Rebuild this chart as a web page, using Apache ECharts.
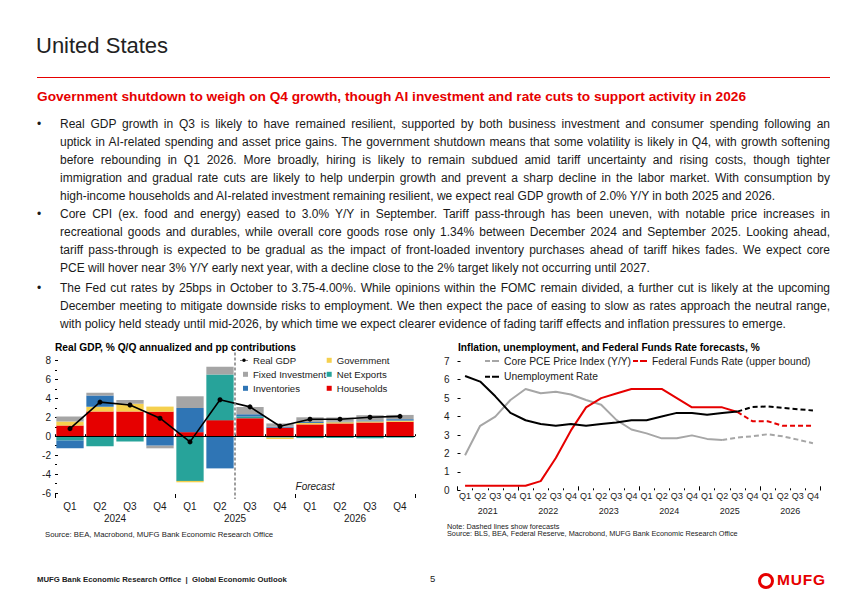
<!DOCTYPE html>
<html><head><meta charset="utf-8">
<script src="https://cdn.jsdelivr.net/npm/echarts@6/dist/echarts.min.js"></script>
<style>
body{margin:0;background:#fff;}
#page{position:relative;width:867px;height:600px;overflow:hidden;background:#fff;font-family:Arial,"Liberation Sans",Helvetica,sans-serif;color:#1a1a1a;}
#chart{position:absolute;left:0;top:0;width:867px;height:600px;z-index:1;}
.t{position:absolute;z-index:2;}
#title{left:36px;top:33px;font-size:22px;line-height:26px;color:#222;}
#rule{left:37px;top:77px;width:793px;height:1.3px;background:#e60000;}
#sub{left:37px;top:89px;font-size:13.7px;line-height:16px;font-weight:bold;color:#e60000;white-space:nowrap;}
.para{left:60px;width:770px;font-size:12px;line-height:18px;}
.para div{white-space:nowrap;text-align:justify;text-align-last:justify;}
.para div.last{text-align:left;text-align-last:left;}
.para .b{position:absolute;left:-23px;top:0;}
#foot{left:37px;top:575px;font-size:7.75px;font-weight:bold;line-height:10px;color:#222;white-space:nowrap;}
#pg{left:430px;top:573px;font-size:9.5px;line-height:12px;color:#222;}
#logo{left:758px;top:571px;width:74px;height:18px;}
#ring{position:absolute;left:0;top:1.5px;width:10px;height:10px;border:3px solid #e60000;border-radius:50%;}
#mufg{position:absolute;left:19px;top:0;font-size:15.5px;line-height:17px;font-weight:bold;color:#e60000;letter-spacing:0.8px;}
</style>
</head>
<body>
<div id="page">
  <div id="chart"></div>
  <div class="t" id="title">United States</div>
  <div class="t" id="rule"></div>
  <div class="t" id="sub">Government shutdown to weigh on Q4 growth, though AI investment and rate cuts to support activity in 2026</div>
  <div class="t para" style="top:115px"><span class="b">•</span>
    <div>Real GDP growth in Q3 is likely to have remained resilient, supported by both business investment and consumer spending following an</div>
    <div>uptick in AI-related spending and asset price gains. The government shutdown means that some volatility is likely in Q4, with growth softening</div>
    <div>before rebounding in Q1 2026. More broadly, hiring is likely to remain subdued amid tariff uncertainty and rising costs, though tighter</div>
    <div>immigration and gradual rate cuts are likely to help underpin growth and prevent a sharp decline in the labor market. With consumption by</div>
    <div class="last">high-income households and AI-related investment remaining resilient, we expect real GDP growth of 2.0% Y/Y in both 2025 and 2026.</div>
  </div>
  <div class="t para" style="top:205px"><span class="b">•</span>
    <div>Core CPI (ex. food and energy) eased to 3.0% Y/Y in September. Tariff pass-through has been uneven, with notable price increases in</div>
    <div>recreational goods and durables, while overall core goods rose only 1.34% between December 2024 and September 2025. Looking ahead,</div>
    <div>tariff pass-through is expected to be gradual as the impact of front-loaded inventory purchases ahead of tariff hikes fades. We expect core</div>
    <div class="last">PCE will hover near 3% Y/Y early next year, with a decline close to the 2% target likely not occurring until 2027.</div>
  </div>
  <div class="t para" style="top:279px"><span class="b">•</span>
    <div>The Fed cut rates by 25bps in October to 3.75-4.00%. While opinions within the FOMC remain divided, a further cut is likely at the upcoming</div>
    <div>December meeting to mitigate downside risks to employment. We then expect the pace of easing to slow as rates approach the neutral range,</div>
    <div class="last">with policy held steady until mid-2026, by which time we expect clearer evidence of fading tariff effects and inflation pressures to emerge.</div>
  </div>
  <div class="t" id="foot">MUFG Bank Economic Research Office&nbsp; | &nbsp;Global Economic Outlook</div>
  <div class="t" id="pg">5</div>
  <div class="t" id="logo"><div id="ring"></div><div id="mufg">MUFG</div></div>
</div>
<script>
// ---------- Left chart: Real GDP contributions ----------
const gdpQuarters = ['Q1','Q2','Q3','Q4','Q1','Q2','Q3','Q4','Q1','Q2','Q3','Q4'];
const gdpYears = ['2024','2025','2026'];
const households      = [1.13, 2.60, 2.62, 2.60, 0.43, 1.70, 1.90, 0.90, 1.25, 1.35, 1.45, 1.52];
const government      = [0.42, 0.52, 0.82, 0.53, -0.15, 0.00, 0.00, -0.15, 0.15, 0.13, 0.12, 0.13];
const netExports      = [-0.45, -1.05, -0.57, 0.00, -4.72, 4.82, 0.18, -0.15, -0.20, -0.18, -0.22, -0.15];
const inventories     = [-0.82, 1.17, 0.00, -1.00, 2.55, -3.40, 0.25, 0.10, 0.10, 0.05, 0.10, 0.15];
const fixedInvestment = [0.53, 0.30, 0.38, -0.28, 1.24, 0.82, 0.77, 0.35, 0.50, 0.45, 0.55, 0.45];
const realGDP         = [0.8, 3.6, 3.3, 1.9, -0.6, 3.85, 3.1, 1.05, 1.8, 1.8, 2.0, 2.1];

// ---------- Right chart: inflation, unemployment, Fed funds ----------
const pceQuarters = ['Q1','Q2','Q3','Q4','Q1','Q2','Q3','Q4','Q1','Q2','Q3','Q4','Q1','Q2','Q3','Q4','Q1','Q2','Q3','Q4','Q1','Q2','Q3','Q4'];
const pceYears = ['2021','2022','2023','2024','2025','2026'];
const corePCE = [1.9, 3.5, 4.0, 4.9, 5.5, 5.27, 5.35, 5.2, 4.9, 4.64, 3.82, 3.3, 3.09, 2.82, 2.82, 2.98, 2.79, 2.73];
const corePCEForecast = [null,null,null,null,null,null,null,null,null,null,null,null,null,null,null,null,null, 2.73, 2.86, 2.93, 3.04, 2.93, 2.75, 2.55];
const unemployment = [6.2, 5.9, 5.1, 4.2, 3.8, 3.6, 3.5, 3.6, 3.5, 3.6, 3.68, 3.8, 3.8, 4.0, 4.2, 4.2, 4.1, 4.2, 4.27];
const unemploymentForecast = [null,null,null,null,null,null,null,null,null,null,null,null,null,null,null,null,null,null, 4.27, 4.52, 4.55, 4.47, 4.4, 4.33];
const fedFunds = [0.25, 0.25, 0.25, 0.25, 0.25, 0.5, 1.75, 3.25, 4.5, 5.0, 5.25, 5.5, 5.5, 5.5, 5.0, 4.5, 4.5, 4.5, 4.25];
const fedFundsForecast = [null,null,null,null,null,null,null,null,null,null,null,null,null,null,null,null,null,null, 4.25, 3.75, 3.75, 3.5, 3.5, 3.5];

const gdpCats = gdpQuarters.map((q, i) => q + ' ' + gdpYears[Math.floor(i / 4)]);
const pceCats = pceQuarters.map((q, i) => q + ' ' + pceYears[Math.floor(i / 4)]);
const govPos = government.map(v => v >= 0 ? v : '-');
const govNeg = government.map(v => v < 0 ? v : '-');

const C = {red:'#E60000', yellow:'#F5D04E', teal:'#27A39A', blue:'#2F75B5', gray:'#A5A5A5', black:'#000'};
const FONT = 'Arial, "Liberation Sans", sans-serif';
const txt = '#1a1a1a';

function bar(name, data, color) {
  return {name, type:'bar', stack:'gdp', data, xAxisIndex:0, yAxisIndex:0,
          barCategoryGap:'9%', itemStyle:{color}, silent:true};
}
function line(name, data, color, dashed) {
  return {name, type:'line', data, xAxisIndex:2, yAxisIndex:1, symbol:'none', silent:true,
          lineStyle:{color, width:2, type: dashed ? [5,3] : 'solid'}, itemStyle:{color}};
}
const legText = {fontSize:9.6, color:txt, lineHeight:12};
const legText2 = {fontSize:10.3, color:txt, lineHeight:12.5};
const dashIcon = 'path://M0,0H5V2H0Z M7,0H14V2H7Z';

const option = {
  animation:false,
  textStyle:{fontFamily:FONT},
  grid:[
    {left:55, top:360.5, width:360, height:132.5},
    {left:457.5, top:361.3, width:363, height:129}
  ],
  xAxis:[
    {type:'category', gridIndex:0, data:gdpCats, position:'bottom', offset:5,
     axisLine:{show:false}, axisTick:{show:true, inside:true, length:2, interval:0, lineStyle:{color:'#000'}},
     axisLabel:{interval:0, margin:3, fontSize:10, color:txt, formatter:v => v.split(' ')[0]}},
    {type:'category', gridIndex:0, data:gdpYears, position:'bottom', offset:5,
     axisLine:{show:false}, axisTick:{show:true, inside:true, length:4, lineStyle:{color:'#000'}},
     axisLabel:{margin:15, fontSize:10, color:txt}},
    {type:'category', gridIndex:1, data:pceCats, position:'bottom', boundaryGap:true,
     axisLine:{show:false}, axisTick:{show:true, inside:true, length:2, interval:0, lineStyle:{color:'#000'}},
     axisLabel:{interval:0, margin:1, fontSize:9, color:txt, formatter:v => v.split(' ')[0]}},
    {type:'category', gridIndex:1, data:pceYears, position:'bottom',
     axisLine:{show:false}, axisTick:{show:true, inside:true, length:4, lineStyle:{color:'#000'}},
     axisLabel:{margin:16, fontSize:9, color:txt}}
  ],
  yAxis:[
    {type:'value', gridIndex:0, min:-6, max:8, interval:2,
     axisLine:{show:false}, splitLine:{show:false},
     axisTick:{show:true, inside:true, length:3, lineStyle:{color:'#000'}},
     minorTick:{show:true, splitNumber:2, length:2, lineStyle:{color:'#000'}},
     axisLabel:{margin:4, fontSize:10, color:txt}},
    {type:'value', gridIndex:1, min:0, max:7, interval:1,
     axisLine:{show:false}, splitLine:{show:false},
     axisTick:{show:true, inside:true, length:3, lineStyle:{color:'#000'}},
     axisLabel:{margin:8, fontSize:10, color:txt}}
  ],
  legend:[
    {left:240, top:354.3, padding:0, orient:'vertical', itemWidth:8, itemHeight:6, itemGap:2,
     data:[{name:'Real GDP', icon:'path://M0,2.6H10V3.4H0Z M2.8,3A2.2,2.2 0 1 1 7.2,3A2.2,2.2 0 1 1 2.8,3Z'}],
     textStyle:legText},
    {left:243, top:368.3, padding:0, orient:'vertical', itemWidth:5, itemHeight:5, itemGap:2, icon:'rect',
     data:['Fixed Investment','Inventories'], textStyle:legText},
    {left:326.7, top:354.3, padding:0, orient:'vertical', itemWidth:5, itemHeight:5, itemGap:2, icon:'rect',
     data:['Government','Net Exports','Households'], textStyle:legText},
    {left:485, top:354.8, padding:0, orient:'vertical', itemWidth:14, itemHeight:3, itemGap:3.2, icon:dashIcon,
     data:['Core PCE Price Index (Y/Y)','Unemployment Rate'], textStyle:legText2},
    {left:633, top:354.8, padding:0, orient:'vertical', itemWidth:14, itemHeight:3, itemGap:3.2, icon:dashIcon,
     data:['Federal Funds Rate (upper bound)'], textStyle:legText2}
  ],
  series:[
    bar('Households', households, C.red),
    bar('Government', govPos, C.yellow),
    bar('Net Exports', netExports, C.teal),
    bar('Inventories', inventories, C.blue),
    bar('Fixed Investment', fixedInvestment, C.gray),
    bar('Government', govNeg, C.yellow),
    {name:'Real GDP', type:'line', data:realGDP, xAxisIndex:0, yAxisIndex:0, z:5, silent:true,
     symbol:'circle', symbolSize:5, lineStyle:{color:'#000', width:1.6}, itemStyle:{color:'#000'},
     markLine:{silent:true, symbol:'none', label:{show:false}, data:[{yAxis:0}],
               lineStyle:{color:'#000', width:1.2, type:'solid'}}},
    line('Core PCE Price Index (Y/Y)', corePCE, '#A6A6A6', false),
    line('Core PCE forecast', corePCEForecast, '#A6A6A6', true),
    line('Federal Funds Rate (upper bound)', fedFunds, C.red, false),
    line('Fed funds forecast', fedFundsForecast, C.red, true),
    line('Unemployment Rate', unemployment, '#000', false),
    line('Unemployment forecast', unemploymentForecast, '#000', true)
  ]
};

const chart = echarts.init(document.getElementById('chart'), null, {renderer:'svg'});
chart.setOption(option);

const xa = chart.convertToPixel({xAxisIndex:0}, gdpCats[5]);
const xb = chart.convertToPixel({xAxisIndex:0}, gdpCats[6]);
const xf = chart.convertToPixel({xAxisIndex:0}, gdpCats[8]);
const yTop = chart.convertToPixel({yAxisIndex:0}, 8);
const yBot = chart.convertToPixel({yAxisIndex:0}, -6);
const yFc = chart.convertToPixel({yAxisIndex:0}, -5.3);
const xm = (xa + xb) / 2;

function label(x, y, text, font, extra) {
  return {type:'text', x, y, silent:true,
    style:Object.assign({text, font, fill:txt, align:'left', verticalAlign:'middle',
                         textAlign:'left', textVerticalAlign:'middle'}, extra || {})};
}

chart.setOption({graphic:[
  {type:'line', silent:true, z:10, shape:{x1:xm, y1:yTop - 8, x2:xm, y2:yBot + 6},
   style:{stroke:'#7F7F7F', lineWidth:1.5, lineDash:[3,2]}},
  label(xf + 5, yFc, 'Forecast', 'italic 10px ' + FONT, {align:'center', textAlign:'center'}),
  label(55, 347.3, 'Real GDP, % Q/Q annualized and pp contributions', 'bold 10.2px ' + FONT, {fill:'#000'}),
  label(458, 347.3, 'Inflation, unemployment, and Federal Funds Rate forecasts, %', 'bold 10.2px ' + FONT, {fill:'#000'}),
  label(45, 534, 'Source: BEA, Macrobond, MUFG Bank Economic Research Office', '7.75px ' + FONT),
  label(447, 526, 'Note: Dashed lines show forecasts', '7.3px ' + FONT),
  label(447, 533.7, 'Source: BLS, BEA, Federal Reserve, Macrobond, MUFG Bank Economic Research Office', '7.3px ' + FONT)
]});
</script>
</body></html>
